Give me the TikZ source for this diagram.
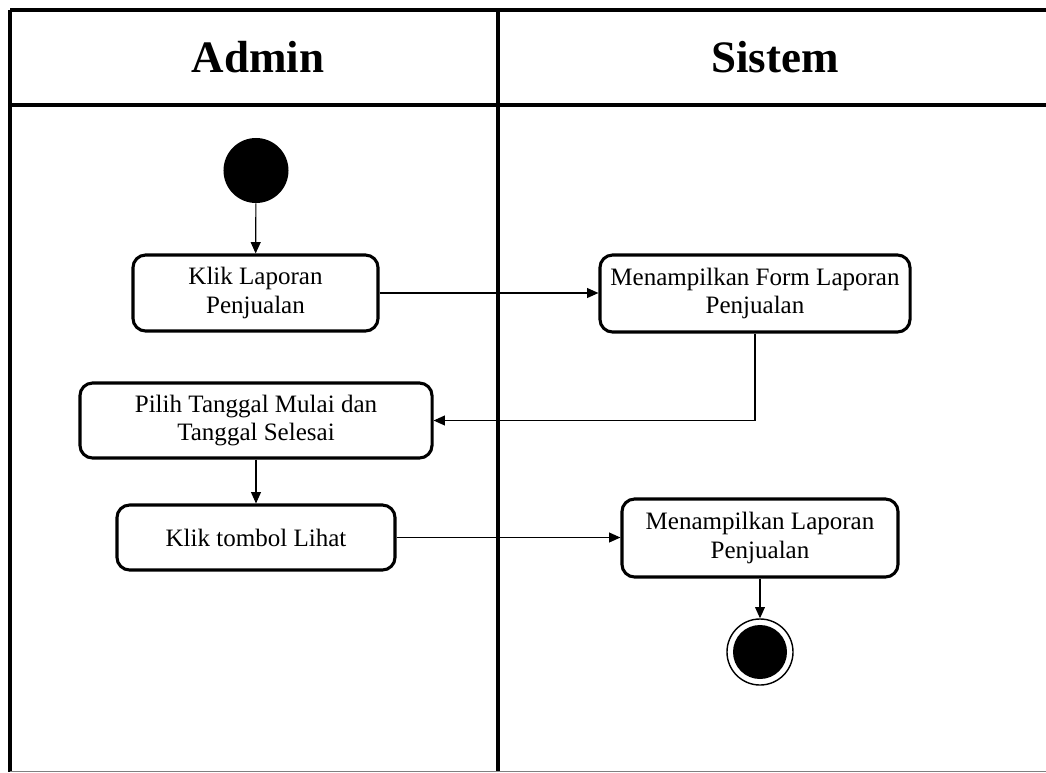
\documentclass[tikz,border=0pt]{standalone}
\usepackage{fontspec}
\setmainfont{Liberation Serif}
\usetikzlibrary{arrows.meta}
\tikzset{
  lane/.style={line width=2.2pt},
  act/.style={draw, line width=2.2pt, rounded corners=9pt, align=center,
    inner sep=0pt, font=\fontsize{17.8}{20}\selectfont},
  judul/.style={font=\fontsize{32}{34}\selectfont\bfseries},
  arr/.style={-{Triangle[length=8pt,width=7pt]}, line width=0.8pt},
}
\begin{document}
\begin{tikzpicture}[x=0.025cm,y=-0.025cm]
  \useasboundingbox (0,0) rectangle (1046,772);
  \draw[lane] (10,10) -- (1046,10);
  \draw[lane] (10,105) -- (1046,105);
  \draw[lane] (10,10) -- (10,772);
  \draw[lane] (498,10) -- (498,772);
  \draw[gray, line width=0.6pt] (10,771) -- (1046,771);
  \node[judul] (admin) at (258,57) {Admin};
  \node[judul] (sistem) at (775,57) {Sistem};
  \node[circle, fill=black, minimum size=1.625cm] (mulai) at (256,170.5) {};
  \node[act, minimum width=6.125cm, minimum height=1.9cm] (a1) at (255.5,293)
    {Klik Laporan\\Penjualan};
  \node[act, minimum width=7.75cm, minimum height=1.925cm] (s1) at (755,293.5)
    {Menampilkan Form Laporan\\Penjualan};
  \node[act, minimum width=8.8cm, minimum height=1.875cm] (a2) at (256,420.5)
    {Pilih Tanggal Mulai dan\\Tanggal Selesai};
  \node[act, minimum width=6.95cm, minimum height=1.625cm] (a3) at (256,537.5)
    {Klik tombol Lihat};
  \node[act, minimum width=6.9cm, minimum height=1.95cm] (s2) at (760,538)
    {Menampilkan Laporan\\Penjualan};
  \node[circle, draw, line width=1pt, minimum size=1.65cm] (selesai) at (760,652) {};
  \node[circle, fill=black, minimum size=1.35cm] (selesai-in) at (selesai) {};
  \begin{scope}[arr]
    \draw (mulai) -- (a1);
    \draw (a1.east) -- (a1.east -| s1.west);
    \draw (s1.south) |- (a2.east);
    \draw (a2) -- (a3);
    \draw (a3.east) -- (a3.east -| s2.west);
    \draw (s2) -- (selesai);
  \end{scope}
\end{tikzpicture}
\end{document}
